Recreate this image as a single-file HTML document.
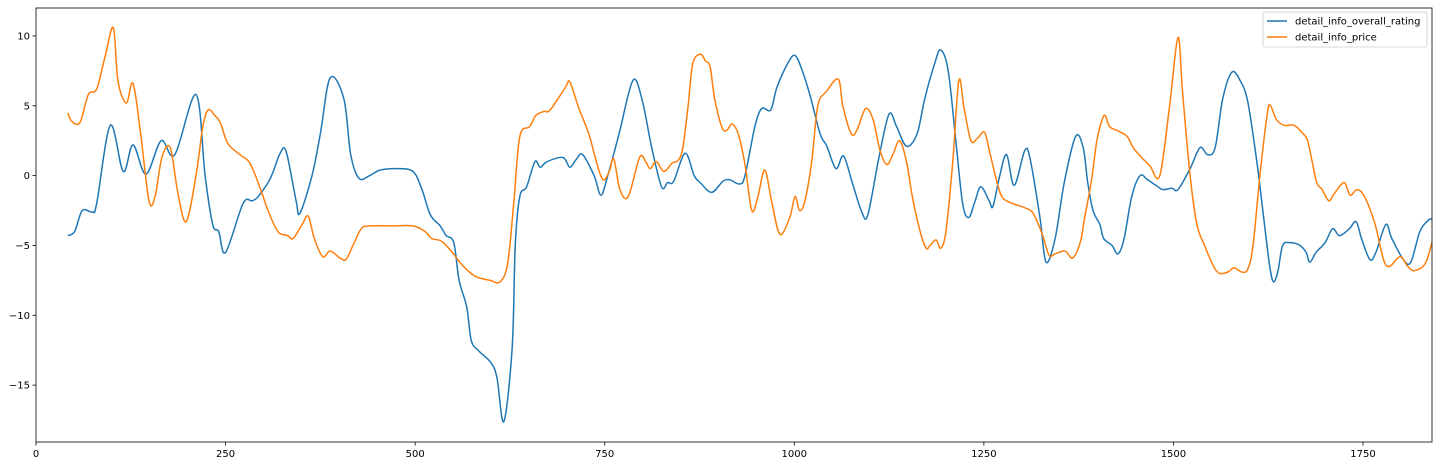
<!DOCTYPE html>
<html><head><meta charset="utf-8"><style>
html,body{margin:0;padding:0;background:#fff;}
svg{display:block;font-family:"DejaVu Sans","Liberation Sans",sans-serif;}
</style></head><body>
<svg id="chart" width="1437" height="466"></svg>
<script>
const xTicks=[0,250,500,750,1000,1250,1500,1750];
const yTicks=[10,5,0,-5,-10,-15];
const ratingX=[42,51,61,74,80,98,115,128,145,165,183,211,223,233,241,250,273,285,293,309,322,330,343,348,364,375,388,406,415,426,440,454,475,497,509,520,533,541,551,558,568,574,583,600,608,617,628,632,638,647,658,665,674,695,704,713,721,736,745,754,769,787,799,812,825,833,841,856,868,876,891,906,915,928,935,948,957,969,977,992,1001,1010,1021,1034,1043,1055,1065,1077,1089,1097,1112,1125,1135,1148,1162,1172,1185,1193,1203,1213,1222,1230,1238,1246,1257,1262,1271,1280,1290,1304,1311,1324,1332,1344,1356,1371,1381,1387,1394,1403,1408,1419,1427,1435,1445,1456,1466,1477,1486,1498,1506,1522,1535,1545,1555,1565,1577,1588,1598,1610,1619,1627,1632,1638,1644,1654,1667,1675,1680,1688,1700,1710,1719,1732,1741,1748,1759,1767,1780,1788,1803,1813,1825,1836,1841];
const ratingY=[-4.3,-4.0,-2.5,-2.6,-2,3.6,0.3,2.2,0.1,2.5,1.5,5.8,0,-3.5,-4,-5.5,-2,-1.8,-1.5,-0.2,1.6,1.7,-1.8,-2.7,0,3,7,5.5,1.5,-0.2,0,0.4,0.5,0.3,-1,-2.8,-3.6,-4.3,-4.8,-7.5,-9.4,-11.8,-12.5,-13.4,-14.5,-17.6,-12.3,-5,-1.5,-0.8,1,0.6,1.0,1.3,0.6,1.2,1.5,0,-1.4,0,3,6.8,5.5,2,-0.8,-0.5,-0.4,1.6,0,-0.5,-1.2,-0.4,-0.3,-0.6,0,3.5,4.8,4.7,6.3,8.1,8.6,7.6,5.7,3,2.1,0.5,1.4,-0.6,-2.6,-2.8,1.4,4.4,3.5,2.1,3,5.5,8,9,7.5,2.5,-2,-3,-1.9,-0.8,-1.8,-2.2,0,1.5,-0.7,1.8,1.2,-3,-6.2,-4.5,-0.5,2.8,2,-0.5,-2.5,-3.5,-4.5,-5,-5.6,-4.5,-1.5,0,-0.3,-0.7,-1,-0.9,-1,0.5,2,1.5,2,5.5,7.4,6.8,5.3,1,-3,-6.5,-7.6,-6.8,-5,-4.8,-5,-5.5,-6.2,-5.5,-4.8,-3.8,-4.3,-3.8,-3.3,-4.5,-6,-5.5,-3.5,-4.5,-6,-6.2,-4,-3.2,-3.1];
const priceX=[42,47,58,69,80,91,102,108,119,128,138,149,157,166,177,187,198,211,220,227,236,243,253,269,282,295,306,319,332,339,351,359,367,378,388,401,409,418,429,440,467,497,513,522,535,549,562,579,599,612,622,630,638,651,659,670,678,698,704,716,729,740,748,756,762,770,781,796,804,810,818,828,839,847,853,860,866,876,883,889,895,905,912,918,926,935,944,952,961,970,981,994,1001,1007,1014,1023,1031,1042,1058,1064,1075,1083,1094,1104,1113,1122,1130,1139,1148,1156,1166,1174,1179,1187,1193,1200,1209,1217,1224,1233,1242,1251,1258,1268,1275,1288,1304,1315,1327,1336,1344,1357,1367,1377,1383,1392,1399,1406,1410,1416,1427,1439,1447,1458,1469,1482,1495,1506,1512,1522,1531,1541,1553,1561,1572,1580,1590,1598,1605,1614,1624,1628,1636,1646,1659,1671,1677,1683,1689,1696,1705,1712,1725,1733,1742,1752,1766,1777,1785,1799,1809,1818,1832,1841];
const priceY=[4.5,3.9,3.8,5.8,6.2,8.5,10.6,6.8,5.2,6.6,3.0,-1.8,-1.5,1.3,2,-1.2,-3.3,0,3.5,4.7,4.3,3.8,2.3,1.5,0.9,-0.8,-2.5,-4,-4.3,-4.5,-3.5,-2.9,-4.5,-5.8,-5.4,-5.9,-6,-5,-3.8,-3.6,-3.6,-3.6,-4,-4.5,-4.7,-5.5,-6.4,-7.2,-7.5,-7.6,-6.3,-2,2.8,3.5,4.3,4.6,4.7,6.3,6.7,4.8,3,0.8,-0.3,0.3,1.2,-1,-1.5,1.3,1.0,0.5,1,0.3,0.9,1.1,2,5,8,8.7,8.2,7.8,5.5,3.4,3.3,3.7,3,0.8,-2.5,-1.5,0.4,-1.8,-4.2,-3,-1.5,-2.5,-1.8,1,5,6,6.9,5,3,3.3,4.8,4,1.8,0.8,1.5,2.5,1,-1.6,-4,-5.2,-5,-4.6,-5.2,-4,1,6.8,4.8,2.5,2.7,3.1,1.6,-0.6,-1.6,-2,-2.3,-2.7,-4.2,-5.7,-5.6,-5.4,-5.9,-4.8,-3,-0.3,2.5,4,4.3,3.5,3.2,2.8,2,1.3,0.7,0,5,9.9,6,0,-3.5,-5,-6.5,-7,-6.9,-6.6,-6.9,-6.7,-5,0,4.5,5,4,3.6,3.6,3,2.5,1,-0.5,-1,-1.8,-1.3,-0.5,-1.4,-1,-1.5,-3.5,-6,-6.5,-5.8,-6.5,-6.8,-6.3,-4.8];

const NS="http://www.w3.org/2000/svg";
const svg=document.getElementById('chart');
const L=36,R=1432,T=8,B=442,XMIN=0,XMAX=1841,YMIN=-19.07,YMAX=12.0;
const sx=v=>L+(v-XMIN)/(XMAX-XMIN)*(R-L);
const sy=v=>B-(v-YMIN)/(YMAX-YMIN)*(B-T);
function mk(tag,attrs,parent){const e=document.createElementNS(NS,tag);for(const k in attrs)e.setAttribute(k,attrs[k]);(parent||svg).appendChild(e);return e;}
function pathFor(xs,ys){
  const p=xs.map((x,i)=>[sx(x),sy(ys[i])]);
  let d='M'+p[0][0].toFixed(2)+','+p[0][1].toFixed(2);
  for(let i=0;i<p.length-1;i++){
    const p0=p[Math.max(0,i-1)],p1=p[i],p2=p[i+1],p3=p[Math.min(p.length-1,i+2)];
    const c1=[p1[0]+(p2[0]-p0[0])/6,p1[1]+(p2[1]-p0[1])/6];
    const c2=[p2[0]-(p3[0]-p1[0])/6,p2[1]-(p3[1]-p1[1])/6];
    d+='C'+c1[0].toFixed(2)+','+c1[1].toFixed(2)+' '+c2[0].toFixed(2)+','+c2[1].toFixed(2)+' '+p2[0].toFixed(2)+','+p2[1].toFixed(2);
  }
  return d;
}
const defs=mk('defs',{});
const cp=mk('clipPath',{id:'clip'},defs);
mk('rect',{x:L,y:T,width:R-L,height:B-T},cp);

const s1=mk('path',{d:pathFor(ratingX,ratingY),fill:'none',stroke:'#1f77b4','stroke-width':1.5,'clip-path':'url(#clip)'});


const s2=mk('path',{d:pathFor(priceX,priceY),fill:'none',stroke:'#ff7f0e','stroke-width':1.5,'clip-path':'url(#clip)'});



const frame=mk('rect',{x:L,y:T,width:R-L,height:B-T,fill:'none',stroke:'#000','stroke-width':0.8});



xTicks.forEach(v=>{
  const x=sx(v);
  const t=mk('line',{x1:x,x2:x,y1:B,y2:B+3.5,stroke:'#000','stroke-width':0.8});
  
  
  const l=mk('text',{x:x,y:B+15,'font-size':10,'text-anchor':'middle',fill:'#000'});
  l.textContent=v;
  
  
});
yTicks.forEach(v=>{
  const y=sy(v);
  const t=mk('line',{x1:L-3.5,x2:L,y1:y,y2:y,stroke:'#000','stroke-width':0.8});
  
  
  const l=mk('text',{x:L-6,y:y+3.5,'font-size':10,'text-anchor':'end',fill:'#000'});
  l.textContent=(v<0?'\u2212'+(-v):v);
  
  
});

const lg=mk('g',{});


mk('rect',{x:1263,y:12,width:164,height:35,rx:2,fill:'#fff',stroke:'#ccc','stroke-width':0.8},lg);
const names=['detail_info_overall_rating','detail_info_price'];
const cols=['#1f77b4','#ff7f0e'];
names.forEach((n,i)=>{
  const y=21+i*16;
  const g=mk('g',{},lg);
  
  
  mk('line',{x1:1267,x2:1287,y1:y,y2:y,stroke:cols[i],'stroke-width':1.5},g);
  const t=mk('text',{x:1295,y:y+3.5,'font-size':10,fill:'#000'},g);
  t.textContent=n;
});
</script>
</body></html>
